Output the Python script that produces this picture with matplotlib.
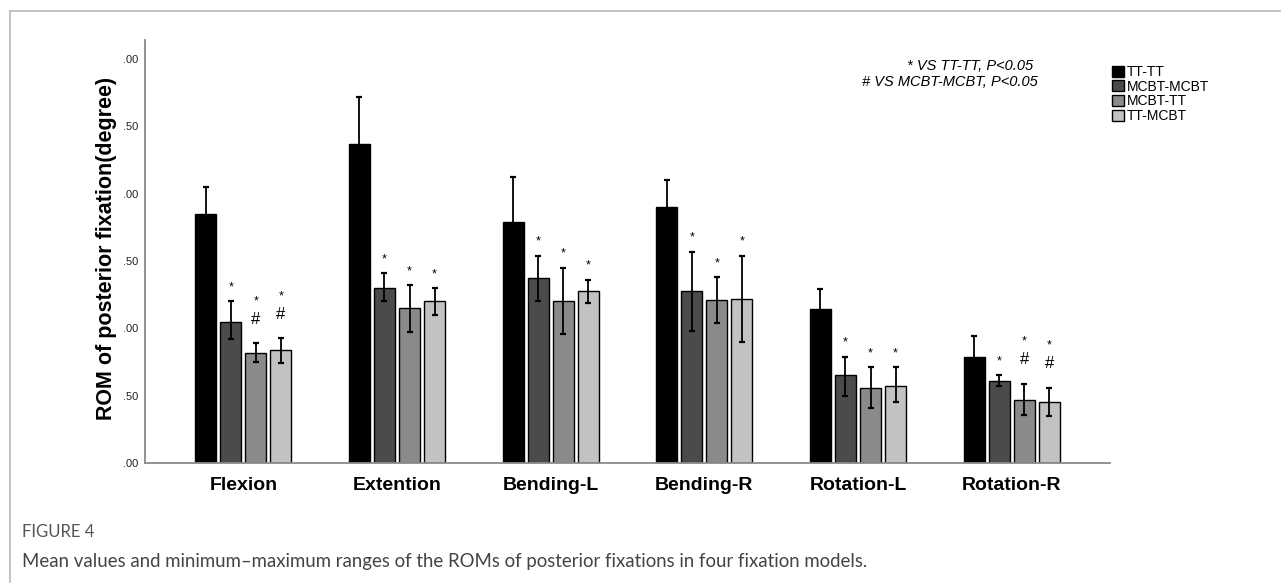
import numpy as np
import matplotlib.pyplot as plt
from matplotlib.lines import Line2D

# Datos: media y rango (mínimo-máximo) del ROM por modelo de fijación
categorias = ['Flexion', 'Extention', 'Bending-L', 'Bending-R', 'Rotation-L', 'Rotation-R']
modelos = ['TT-TT', 'MCBT-MCBT', 'MCBT-TT', 'TT-MCBT']

tt_tt = [1.85, 2.37, 1.79, 1.90, 1.14, 0.79]
mcbt_mcbt = [1.05, 1.30, 1.37, 1.28, 0.65, 0.61]
mcbt_tt = [0.82, 1.15, 1.20, 1.21, 0.56, 0.47]
tt_mcbt = [0.84, 1.20, 1.28, 1.22, 0.57, 0.45]

tt_tt_max = [2.05, 2.72, 2.12, 2.10, 1.29, 0.94]
tt_tt_min = [1.65, 2.02, 1.46, 1.70, 0.99, 0.64]
mcbt_mcbt_max = [1.20, 1.41, 1.54, 1.57, 0.79, 0.65]
mcbt_mcbt_min = [0.92, 1.20, 1.20, 0.98, 0.50, 0.57]
mcbt_tt_max = [0.89, 1.32, 1.45, 1.38, 0.71, 0.59]
mcbt_tt_min = [0.75, 0.97, 0.96, 1.04, 0.41, 0.36]
tt_mcbt_max = [0.93, 1.30, 1.36, 1.54, 0.71, 0.56]
tt_mcbt_min = [0.74, 1.10, 1.19, 0.90, 0.45, 0.35]

# marcas de significancia por categoría y modelo
marcas = [
    ['', '*', '*#', '*#'],
    ['', '*', '*', '*'],
    ['', '*', '*', '*'],
    ['', '*', '*', '*'],
    ['', '*', '*', '*'],
    ['', '*', '*#', '*#'],
]

yticks = [0, 0.5, 1.0, 1.5, 2.0, 2.5, 3.0]
ytick_labels = ['.00', '.50', '.00', '.50', '.00', '.50', '.00']

medias = [tt_tt, mcbt_mcbt, mcbt_tt, tt_mcbt]
maximos = [tt_tt_max, mcbt_mcbt_max, mcbt_tt_max, tt_mcbt_max]
minimos = [tt_tt_min, mcbt_mcbt_min, mcbt_tt_min, tt_mcbt_min]
colores = ['#000000', '#4b4b4b', '#8a8a8a', '#c2c2c2']

plt.rcParams['font.family'] = ['Liberation Sans', 'DejaVu Sans']

fig = plt.figure(figsize=(12.81, 5.83), dpi=100)
ax = fig.add_axes([0.1132, 0.2058, 0.7533, 0.7256])

x = np.arange(len(categorias))
paso = 0.163
ancho = 0.137

for i in range(len(modelos)):
    pos = x + (i - 1.5) * paso
    m = np.array(medias[i])
    lo = m - np.array(minimos[i])
    hi = np.array(maximos[i]) - m
    ax.bar(pos, m, width=ancho, color=colores[i], edgecolor='black',
           linewidth=1.0, label=modelos[i], zorder=2)
    ax.errorbar(pos, m, yerr=[lo, hi], fmt='none', ecolor='black',
                elinewidth=1.3, capsize=2, capthick=1.6, zorder=3)
    for j in range(len(categorias)):
        txt = marcas[j][i]
        tope = maximos[i][j]
        if txt == '*':
            ax.annotate('*', (pos[j], tope), xytext=(0, 10), textcoords='offset points',
                        ha='center', va='center', fontsize=9)
        elif txt == '*#':
            ax.annotate('#', (pos[j], tope), xytext=(0, 17), textcoords='offset points',
                        ha='center', va='center', fontsize=12)
            ax.annotate('*', (pos[j], tope), xytext=(0, 30), textcoords='offset points',
                        ha='center', va='center', fontsize=9)

ax.set_xlim(-0.64, 5.64)
ax.set_ylim(0, 3.14)
ax.set_yticks(yticks)
ax.set_yticklabels(ytick_labels, fontsize=8, color='#222222')
ax.set_xticks(x)
ax.set_xticklabels(categorias, fontsize=14, fontweight='bold')
ax.tick_params(axis='y', length=0, pad=5)
ax.tick_params(axis='x', length=0, pad=10)
for s in ['top', 'right']:
    ax.spines[s].set_visible(False)
for s in ['left', 'bottom']:
    ax.spines[s].set_color('#8a8a8a')
    ax.spines[s].set_linewidth(1.3)

fig.text(107 / 1281, 1 - 248 / 583, 'ROM of posterior fixation(degree)', rotation=90,
         ha='center', va='center', fontsize=15.5, fontweight='bold')

fig.text(1033 / 1281, 1 - 66 / 583, '* VS TT-TT, P<0.05', ha='right', va='center',
         fontsize=10.5, style='italic')
fig.text(1038 / 1281, 1 - 82 / 583, '# VS MCBT-MCBT, P<0.05', ha='right', va='center',
         fontsize=10.5, style='italic')

fig.legend(loc='upper left', bbox_to_anchor=(1112 / 1281, 1 - 65 / 583), frameon=False,
           fontsize=10, handlelength=0.85, handleheight=0.85, labelspacing=0.05,
           handletextpad=0.2, borderaxespad=0, borderpad=0)

# marco del panel y pie de figura
fig.add_artist(Line2D([10 / 1281, 1], [1 - 11 / 583, 1 - 11 / 583], color='#bdbdbd', lw=1.3))
fig.add_artist(Line2D([10 / 1281, 10 / 1281], [0, 1 - 11 / 583], color='#bdbdbd', lw=1.3))
fig.text(22 / 1281, 1 - 532 / 583, 'FIGURE 4', fontsize=12, color='#555555',
         family='Lato', va='center')
fig.text(22 / 1281, 1 - 562 / 583,
         'Mean values and minimum\u2013maximum ranges of the ROMs of posterior fixations in four fixation models.',
         fontsize=13.4, color='#444444', family='Lato', va='center')

fig.savefig('out.png', dpi=100)
